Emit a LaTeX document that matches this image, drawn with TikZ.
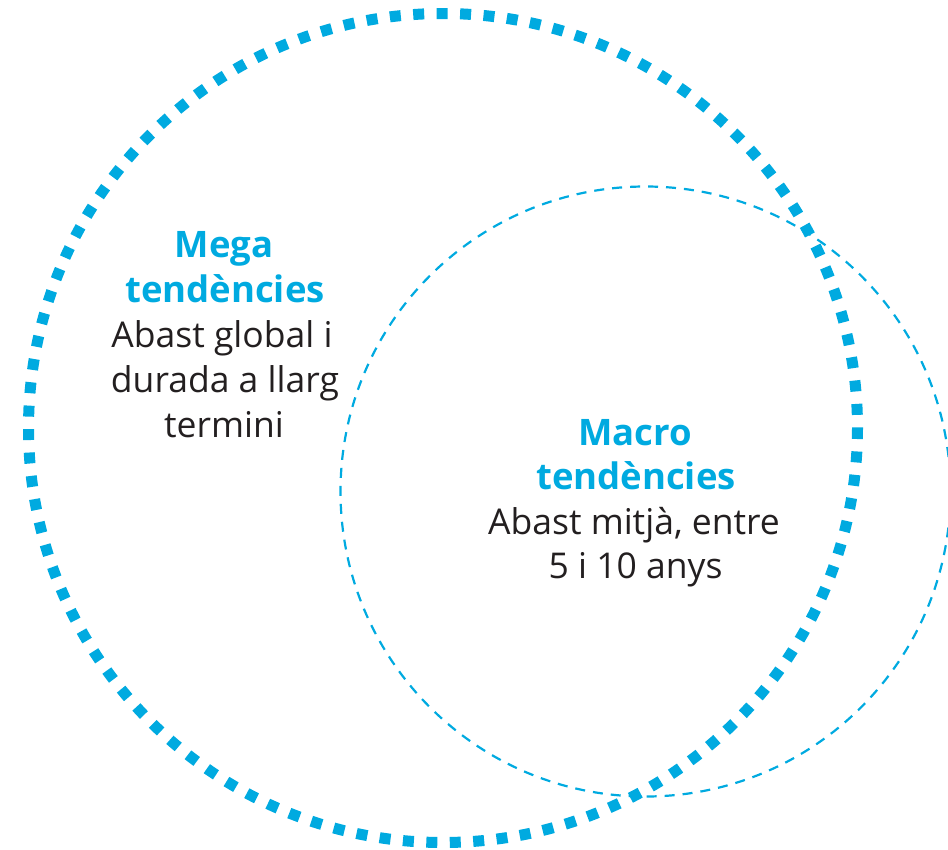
\documentclass[tikz,border=0pt]{standalone}
\usepackage{fontspec}
\setmainfont{Open Sans}
\definecolor{cyanblue}{RGB}{0,170,224}
\definecolor{txt}{RGB}{35,31,32}
\begin{document}
\begin{tikzpicture}[x=1pt,y=-1pt,
  bigring/.style={draw=cyanblue,line width=11pt,dash pattern=on 11pt off 12.46pt},
  smallring/.style={draw=cyanblue,line width=2.2pt,dash pattern=on 10pt off 8pt},
  headtxt/.style={anchor=base,inner sep=0pt,text=cyanblue,font=\fontsize{36.5}{44}\selectfont\bfseries},
  bodytxt/.style={anchor=base,inner sep=0pt,text=txt,font=\fontsize{35.5}{44}\selectfont}]
\useasboundingbox (0,0) rectangle (948,849);
\begin{scope}
\clip (0,0) rectangle (948,849);
\draw[smallring] (645.5,491.5) circle[radius=305];
\draw[bigring] (443,428) circle[radius=414.5];
\end{scope}
\node[headtxt] (mega1) at (224,257) {Mega};
\node[headtxt] (mega2) at (225,302) {tendències};
\node[bodytxt] (mega3) at (222,347) {Abast global i};
\node[bodytxt] (mega4) at (225,392) {durada a llarg};
\node[bodytxt] (mega5) at (224,437) {termini};
\node[headtxt] (macro1) at (635,445) {Macro};
\node[headtxt] (macro2) at (636,489.5) {tendències};
\node[bodytxt] (macro3) at (634,534) {Abast mitjà, entre};
\node[bodytxt] (macro4) at (635.5,578) {5 i 10 anys};
\end{tikzpicture}
\end{document}
